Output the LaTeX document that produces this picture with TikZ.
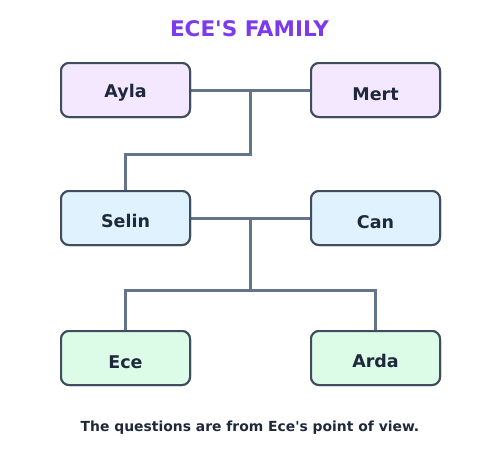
\documentclass[tikz,border=0pt]{standalone}
\usepackage{fontspec}
\newfontfamily\djfont{DejaVu Sans}
\usetikzlibrary{calc}
\definecolor{titlecol}{HTML}{7C3AED}
\definecolor{txtcol}{HTML}{1E293B}
\definecolor{bordcol}{HTML}{3F4B5E}
\definecolor{linecol}{HTML}{64748B}
\definecolor{pfill}{HTML}{F3E8FF}
\definecolor{bfill}{HTML}{E0F2FE}
\definecolor{gfill}{HTML}{DCFCE7}
\tikzset{
  person/.style={draw=bordcol, line width=2pt, rounded corners=8pt, minimum width=129pt, minimum height=54pt, inner sep=0pt},
  pname/.style={anchor=base, text=txtcol, font=\djfont\fontsize{17.5}{20}\selectfont\bfseries, inner sep=0pt},
  link/.style={draw=linecol, line width=3pt},
}
\begin{document}
\begin{tikzpicture}[x=1pt,y=-1pt]
\useasboundingbox (0,0) rectangle (500,455);
\node[anchor=base, text=titlecol, font=\djfont\fontsize{21.5}{24}\selectfont\bfseries, inner sep=0pt] (title) at (249.5,36.7) {ECE'S FAMILY};
% boxes (placed first to define anchors)
\node[person, fill=pfill] (ayla) at (125.5,90) {};
\node[person, fill=pfill] (mert) at (375.5,90) {};
\node[person, fill=bfill] (selin) at (125.5,218) {};
\node[person, fill=bfill] (can) at (375.5,218) {};
\node[person, fill=gfill] (ece) at (125.5,358) {};
\node[person, fill=gfill] (arda) at (375.5,358) {};
% connectors
\coordinate (c1) at ($(ayla.east)!0.5!(mert.west)$);
\coordinate (j1) at ($(c1)+(0,64)$);
\coordinate (c2) at ($(selin.east)!0.5!(can.west)$);
\coordinate (j2) at ($(c2)+(0,72)$);
\draw[link] (ayla.east) -- (mert.west);
\draw[link] (c1) -- (j1) -| (selin.north);
\draw[link] (selin.east) -- (can.west);
\draw[link] (c2) -- (j2);
\draw[link] (j2) -| (ece.north);
\draw[link] (j2) -| (arda.north);
% redraw boxes on top of connector ends
\node[person, fill=pfill] at (ayla) {};
\node[person, fill=pfill] at (mert) {};
\node[person, fill=bfill] at (selin) {};
\node[person, fill=bfill] at (can) {};
\node[person, fill=gfill] at (ece) {};
\node[person, fill=gfill] at (arda) {};
% names
\node[pname] (aylat) at (125.5,97.3) {Ayla};
\node[pname] (mertt) at (375.5,100) {Mert};
\node[pname] (selint) at (125.5,227.3) {Selin};
\node[pname] (cant) at (375.5,228.3) {Can};
\node[pname] (ecet) at (125.5,368) {Ece};
\node[pname] (ardat) at (375.5,367.3) {Arda};
\node[anchor=base, text=txtcol, font=\djfont\fontsize{13.9}{16}\selectfont\bfseries, inner sep=0pt] (foot) at (250,431.7) {The questions are from Ece's point of view.};
\end{tikzpicture}
\end{document}
